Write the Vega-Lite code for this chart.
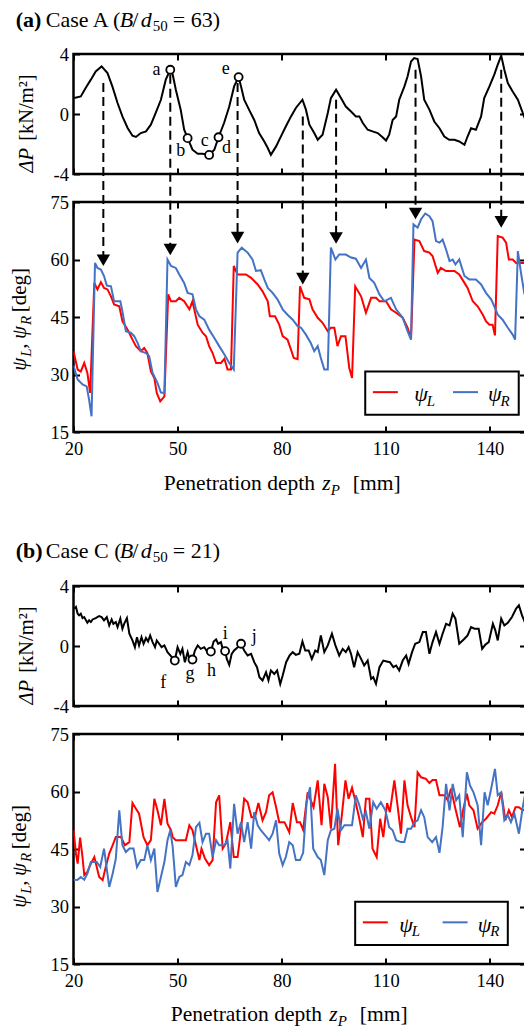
{
"$schema":"https://vega.github.io/schema/vega-lite/v6.json",
"padding":{"left":7.5,"top":7,"right":0,"bottom":0},
"autosize":{"type":"pad"},
"spacing":28,
"bounds":"flush",
"config":{
 "view":{"stroke":"black","strokeWidth":2.5},
 "axis":{"domain":false,"grid":false,"tickColor":"black","tickWidth":2,"tickSize":-6,"labelFont":"Liberation Serif","labelFontSize":18.5,"labelColor":"black","labelFlush":false,"labelOverlap":false,"labelPadding":9},
 "axisX":{"labelPadding":13},
 "axisY":{"labelPadding":11},
 "text":{"font":"Liberation Serif","color":"black"}
},
"datasets":{
"dpA":[{"x":20.2,"dp":1.07},{"x":22.1,"dp":1.17},{"x":23.5,"dp":1.73},{"x":25.0,"dp":2.29},{"x":26.4,"dp":2.84},{"x":28.1,"dp":3.17},{"x":29.8,"dp":2.73},{"x":31.2,"dp":1.84},{"x":32.7,"dp":0.73},{"x":34.1,"dp":-0.16},{"x":35.6,"dp":-0.93},{"x":37.0,"dp":-1.45},{"x":38.0,"dp":-1.53},{"x":39.4,"dp":-1.27},{"x":40.9,"dp":-1.16},{"x":42.3,"dp":-0.71},{"x":43.7,"dp":0.07},{"x":45.2,"dp":0.95},{"x":46.6,"dp":2.29},{"x":47.9,"dp":2.95},{"x":48.6,"dp":2.62},{"x":49.5,"dp":1.62},{"x":50.9,"dp":0.29},{"x":51.9,"dp":-1.05},{"x":52.9,"dp":-1.61},{"x":54.3,"dp":-2.38},{"x":55.8,"dp":-2.65},{"x":57.2,"dp":-2.65},{"x":59.1,"dp":-2.73},{"x":60.6,"dp":-2.38},{"x":61.8,"dp":-1.55},{"x":63.4,"dp":-0.6},{"x":64.9,"dp":0.5},{"x":66.3,"dp":1.84},{"x":67.6,"dp":2.46},{"x":68.3,"dp":1.84},{"x":69.2,"dp":0.95},{"x":70.6,"dp":0.29},{"x":72.1,"dp":-0.4},{"x":73.5,"dp":-1.27},{"x":75.0,"dp":-1.83},{"x":76.0,"dp":-2.27},{"x":76.9,"dp":-2.72},{"x":78.4,"dp":-2.16},{"x":79.8,"dp":-1.49},{"x":81.2,"dp":-0.83},{"x":82.7,"dp":-0.16},{"x":84.1,"dp":0.4},{"x":86.0,"dp":0.95},{"x":87.0,"dp":0.29},{"x":88.0,"dp":-0.71},{"x":89.4,"dp":-1.27},{"x":90.4,"dp":-1.72},{"x":91.8,"dp":-1.38},{"x":93.3,"dp":0.07},{"x":94.2,"dp":1.06},{"x":95.7,"dp":1.62},{"x":97.1,"dp":1.06},{"x":98.5,"dp":0.5},{"x":100.0,"dp":0.17},{"x":101.4,"dp":-0.16},{"x":102.4,"dp":-0.16},{"x":103.4,"dp":-0.6},{"x":104.8,"dp":-1.05},{"x":106.2,"dp":-1.16},{"x":107.7,"dp":-1.27},{"x":109.1,"dp":-1.55},{"x":110.1,"dp":-1.77},{"x":111.0,"dp":-1.38},{"x":112.0,"dp":-0.4},{"x":113.0,"dp":-0.16},{"x":113.9,"dp":0.95},{"x":115.4,"dp":1.84},{"x":116.3,"dp":2.5},{"x":117.3,"dp":3.5},{"x":118.2,"dp":3.73},{"x":119.2,"dp":3.66},{"x":120.2,"dp":2.5},{"x":121.1,"dp":0.95},{"x":122.6,"dp":0.29},{"x":124.0,"dp":-0.5},{"x":125.5,"dp":-0.95},{"x":126.9,"dp":-1.5},{"x":128.3,"dp":-1.72},{"x":129.8,"dp":-1.72},{"x":131.2,"dp":-1.83},{"x":132.7,"dp":-2.05},{"x":133.6,"dp":-1.5},{"x":134.6,"dp":-0.95},{"x":136.0,"dp":-1.05},{"x":137.5,"dp":-0.16},{"x":138.4,"dp":1.06},{"x":139.9,"dp":1.84},{"x":141.3,"dp":2.62},{"x":142.3,"dp":3.29},{"x":143.3,"dp":3.89},{"x":144.2,"dp":2.95},{"x":145.2,"dp":2.06},{"x":146.6,"dp":1.5},{"x":148.1,"dp":0.95},{"x":149.5,"dp":0.07},{"x":150.3,"dp":-0.4}],
"arrA":[{"x":28.6,"start":2.06,"end":-9.75,"tip":58.3},{"x":47.9,"start":2.62,"end":-9.03,"tip":61.1},{"x":67.3,"start":2.06,"end":-8.24,"tip":64.2},{"x":86.1,"start":-0.16,"end":-10.97,"tip":53.5},{"x":95.7,"start":0.95,"end":-8.27,"tip":64.1},{"x":118.6,"start":2.95,"end":-6.63,"tip":70.5},{"x":143.3,"start":2.95,"end":-7.19,"tip":68.3}],
"ptsA":[{"x":47.9,"dp":2.95,"label":"a","lx":43.9,"ly":2.62},{"x":52.9,"dp":-1.61,"label":"b","lx":50.9,"ly":-2.8},{"x":59.1,"dp":-2.73,"label":"c","lx":57.8,"ly":-2.13},{"x":61.8,"dp":-1.55,"label":"d","lx":64.1,"ly":-2.62},{"x":67.6,"dp":2.46,"label":"e","lx":63.9,"ly":2.68}],
"psiA":[
{"x":20,"psi":36.1,"side":"L"},{"x":21.2,"psi":31.3,"side":"L"},{"x":22.1,"psi":30.8,"side":"L"},{"x":23.1,"psi":33.0,"side":"L"},{"x":24.0,"psi":30.4,"side":"L"},{"x":24.8,"psi":25.2,"side":"L"},{"x":26.0,"psi":53.9,"side":"L"},{"x":26.9,"psi":52.2,"side":"L"},{"x":27.9,"psi":54.1,"side":"L"},{"x":28.8,"psi":52.6,"side":"L"},{"x":29.8,"psi":52.2,"side":"L"},{"x":30.8,"psi":50.4,"side":"L"},{"x":31.7,"psi":48.3,"side":"L"},{"x":33.2,"psi":47.8,"side":"L"},{"x":34.1,"psi":43.9,"side":"L"},{"x":35.6,"psi":41.7,"side":"L"},{"x":37.0,"psi":39.1,"side":"L"},{"x":38.0,"psi":37.4,"side":"L"},{"x":39.4,"psi":36.1,"side":"L"},{"x":40.4,"psi":36.9,"side":"L"},{"x":41.3,"psi":35.6,"side":"L"},{"x":42.3,"psi":30.8,"side":"L"},{"x":43.3,"psi":29.1,"side":"L"},{"x":44.0,"psi":25.2,"side":"L"},{"x":45.0,"psi":23.0,"side":"L"},{"x":46.2,"psi":24.3,"side":"L"},{"x":47.3,"psi":50.9,"side":"L"},{"x":48.1,"psi":49.1,"side":"L"},{"x":49.5,"psi":49.1,"side":"L"},{"x":50.5,"psi":50.0,"side":"L"},{"x":51.9,"psi":49.1,"side":"L"},{"x":53.4,"psi":47.0,"side":"L"},{"x":54.3,"psi":49.1,"side":"L"},{"x":55.8,"psi":43.0,"side":"L"},{"x":57.2,"psi":40.9,"side":"L"},{"x":58.2,"psi":40.0,"side":"L"},{"x":59.1,"psi":37.4,"side":"L"},{"x":60.1,"psi":35.6,"side":"L"},{"x":61.1,"psi":33.0,"side":"L"},{"x":62.5,"psi":33.0,"side":"L"},{"x":63.5,"psi":34.1,"side":"L"},{"x":64.4,"psi":31.3,"side":"L"},{"x":65.4,"psi":31.3,"side":"L"},{"x":66.2,"psi":58.3,"side":"L"},{"x":67.3,"psi":56.1,"side":"L"},{"x":69.7,"psi":56.1,"side":"L"},{"x":71.2,"psi":55.2,"side":"L"},{"x":73.1,"psi":53.5,"side":"L"},{"x":74.5,"psi":51.7,"side":"L"},{"x":76.0,"psi":49.1,"side":"L"},{"x":76.6,"psi":45.2,"side":"L"},{"x":78.1,"psi":45.2,"side":"L"},{"x":79.3,"psi":43.0,"side":"L"},{"x":80.3,"psi":40.0,"side":"L"},{"x":81.7,"psi":39.1,"side":"L"},{"x":82.7,"psi":36.5,"side":"L"},{"x":83.5,"psi":34.3,"side":"L"},{"x":84.6,"psi":34.0,"side":"L"},{"x":85.3,"psi":53.0,"side":"L"},{"x":86.5,"psi":50.0,"side":"L"},{"x":88.0,"psi":49.6,"side":"L"},{"x":88.9,"psi":47.0,"side":"L"},{"x":90.4,"psi":44.8,"side":"L"},{"x":91.8,"psi":43.5,"side":"L"},{"x":93.3,"psi":41.3,"side":"L"},{"x":94.2,"psi":42.2,"side":"L"},{"x":95.2,"psi":42.2,"side":"L"},{"x":96.1,"psi":37.4,"side":"L"},{"x":97.1,"psi":40.0,"side":"L"},{"x":98.4,"psi":40.0,"side":"L"},{"x":99.5,"psi":31.7,"side":"L"},{"x":100.3,"psi":29.1,"side":"L"},{"x":101.2,"psi":53.0,"side":"L"},{"x":102.9,"psi":50.4,"side":"L"},{"x":104.3,"psi":46.1,"side":"L"},{"x":105.8,"psi":50.0,"side":"L"},{"x":107.2,"psi":50.0,"side":"L"},{"x":108.2,"psi":49.1,"side":"L"},{"x":110.1,"psi":49.1,"side":"L"},{"x":111.5,"psi":47.0,"side":"L"},{"x":113.0,"psi":46.1,"side":"L"},{"x":114.9,"psi":44.8,"side":"L"},{"x":116.3,"psi":42.2,"side":"L"},{"x":117.3,"psi":39.3,"side":"L"},{"x":118.3,"psi":65.2,"side":"L"},{"x":119.7,"psi":64.8,"side":"L"},{"x":121.1,"psi":62.2,"side":"L"},{"x":122.6,"psi":61.8,"side":"L"},{"x":123.5,"psi":60.9,"side":"L"},{"x":125.0,"psi":56.5,"side":"L"},{"x":125.9,"psi":57.8,"side":"L"},{"x":127.4,"psi":57.0,"side":"L"},{"x":129.8,"psi":57.0,"side":"L"},{"x":131.2,"psi":56.1,"side":"L"},{"x":132.7,"psi":53.9,"side":"L"},{"x":133.6,"psi":52.6,"side":"L"},{"x":135.1,"psi":49.1,"side":"L"},{"x":136.5,"psi":47.8,"side":"L"},{"x":138.0,"psi":45.6,"side":"L"},{"x":138.9,"psi":43.9,"side":"L"},{"x":139.9,"psi":43.0,"side":"L"},{"x":140.8,"psi":43.0,"side":"L"},{"x":141.5,"psi":40.2,"side":"L"},{"x":142.3,"psi":66.1,"side":"L"},{"x":143.7,"psi":65.7,"side":"L"},{"x":144.7,"psi":64.4,"side":"L"},{"x":145.5,"psi":60.0,"side":"L"},{"x":146.6,"psi":60.0,"side":"L"},{"x":147.6,"psi":59.1,"side":"L"},{"x":150.3,"psi":59.1,"side":"L"},
{"x":20,"psi":32.3,"side":"R"},{"x":21.2,"psi":28.7,"side":"R"},{"x":22.6,"psi":27.4,"side":"R"},{"x":23.8,"psi":26.9,"side":"R"},{"x":24.5,"psi":23.4,"side":"R"},{"x":25.2,"psi":19.1,"side":"R"},{"x":26.2,"psi":59.1,"side":"R"},{"x":26.9,"psi":57.8,"side":"R"},{"x":27.9,"psi":57.4,"side":"R"},{"x":28.8,"psi":55.7,"side":"R"},{"x":29.6,"psi":53.2,"side":"R"},{"x":30.8,"psi":53.0,"side":"R"},{"x":31.7,"psi":49.1,"side":"R"},{"x":33.5,"psi":49.1,"side":"R"},{"x":34.1,"psi":46.5,"side":"R"},{"x":35.1,"psi":41.3,"side":"R"},{"x":36.5,"psi":40.9,"side":"R"},{"x":37.5,"psi":40.0,"side":"R"},{"x":38.5,"psi":38.2,"side":"R"},{"x":39.4,"psi":36.1,"side":"R"},{"x":40.9,"psi":35.6,"side":"R"},{"x":41.8,"psi":34.8,"side":"R"},{"x":42.8,"psi":30.4,"side":"R"},{"x":44.2,"psi":27.8,"side":"R"},{"x":45.2,"psi":25.3,"side":"R"},{"x":46.2,"psi":25.2,"side":"R"},{"x":47.1,"psi":60.0,"side":"R"},{"x":48.1,"psi":58.3,"side":"R"},{"x":49.5,"psi":57.8,"side":"R"},{"x":50.5,"psi":56.1,"side":"R"},{"x":51.9,"psi":53.9,"side":"R"},{"x":52.9,"psi":51.3,"side":"R"},{"x":54.3,"psi":50.9,"side":"R"},{"x":55.3,"psi":47.0,"side":"R"},{"x":56.3,"psi":45.2,"side":"R"},{"x":57.7,"psi":44.3,"side":"R"},{"x":59.1,"psi":41.7,"side":"R"},{"x":60.6,"psi":39.5,"side":"R"},{"x":62.0,"psi":37.4,"side":"R"},{"x":63.5,"psi":35.2,"side":"R"},{"x":64.9,"psi":33.0,"side":"R"},{"x":66.2,"psi":31.3,"side":"R"},{"x":67.3,"psi":61.8,"side":"R"},{"x":68.5,"psi":63.1,"side":"R"},{"x":70.2,"psi":61.8,"side":"R"},{"x":71.6,"psi":60.0,"side":"R"},{"x":72.6,"psi":57.0,"side":"R"},{"x":74.0,"psi":57.2,"side":"R"},{"x":75.0,"psi":54.8,"side":"R"},{"x":76.0,"psi":52.6,"side":"R"},{"x":77.4,"psi":51.3,"side":"R"},{"x":78.8,"psi":49.6,"side":"R"},{"x":80.3,"psi":47.0,"side":"R"},{"x":81.7,"psi":45.6,"side":"R"},{"x":83.2,"psi":44.3,"side":"R"},{"x":84.6,"psi":42.6,"side":"R"},{"x":85.6,"psi":42.2,"side":"R"},{"x":87.0,"psi":40.4,"side":"R"},{"x":88.4,"psi":38.2,"side":"R"},{"x":89.4,"psi":36.1,"side":"R"},{"x":90.4,"psi":37.4,"side":"R"},{"x":91.3,"psi":34.3,"side":"R"},{"x":92.3,"psi":31.3,"side":"R"},{"x":93.3,"psi":31.3,"side":"R"},{"x":94.2,"psi":63.1,"side":"R"},{"x":95.5,"psi":60.0,"side":"R"},{"x":96.6,"psi":61.3,"side":"R"},{"x":98.5,"psi":61.3,"side":"R"},{"x":100.0,"psi":60.5,"side":"R"},{"x":101.4,"psi":60.2,"side":"R"},{"x":102.9,"psi":57.8,"side":"R"},{"x":104.3,"psi":60.0,"side":"R"},{"x":105.3,"psi":55.2,"side":"R"},{"x":106.7,"psi":53.9,"side":"R"},{"x":108.2,"psi":50.9,"side":"R"},{"x":109.6,"psi":49.1,"side":"R"},{"x":111.5,"psi":50.0,"side":"R"},{"x":113.0,"psi":47.0,"side":"R"},{"x":114.9,"psi":44.8,"side":"R"},{"x":116.3,"psi":41.3,"side":"R"},{"x":117.3,"psi":39.1,"side":"R"},{"x":118.0,"psi":69.2,"side":"R"},{"x":119.2,"psi":68.3,"side":"R"},{"x":120.2,"psi":70.5,"side":"R"},{"x":121.4,"psi":72.0,"side":"R"},{"x":122.6,"psi":71.3,"side":"R"},{"x":123.5,"psi":70.0,"side":"R"},{"x":124.5,"psi":64.8,"side":"R"},{"x":125.5,"psi":64.4,"side":"R"},{"x":126.4,"psi":65.2,"side":"R"},{"x":127.4,"psi":62.6,"side":"R"},{"x":128.4,"psi":59.6,"side":"R"},{"x":129.3,"psi":60.0,"side":"R"},{"x":130.1,"psi":58.7,"side":"R"},{"x":131.2,"psi":60.0,"side":"R"},{"x":132.7,"psi":55.7,"side":"R"},{"x":134.1,"psi":54.8,"side":"R"},{"x":136.0,"psi":54.8,"side":"R"},{"x":137.5,"psi":53.5,"side":"R"},{"x":138.9,"psi":51.3,"side":"R"},{"x":140.4,"psi":49.6,"side":"R"},{"x":141.3,"psi":47.8,"side":"R"},{"x":142.3,"psi":45.6,"side":"R"},{"x":143.7,"psi":44.3,"side":"R"},{"x":145.2,"psi":42.2,"side":"R"},{"x":146.6,"psi":40.4,"side":"R"},{"x":147.3,"psi":39.1,"side":"R"},{"x":148.1,"psi":62.2,"side":"R"},{"x":149.0,"psi":56.5,"side":"R"},{"x":150.0,"psi":50.9,"side":"R"}],
"dpC":[{"x":20.2,"dp":2.49},{"x":20.7,"dp":2.6},{"x":21.2,"dp":2.15},{"x":21.6,"dp":2.04},{"x":22.1,"dp":2.15},{"x":22.6,"dp":1.86},{"x":23.1,"dp":1.93},{"x":23.6,"dp":1.71},{"x":24.0,"dp":1.55},{"x":24.5,"dp":1.71},{"x":25.0,"dp":1.6},{"x":25.5,"dp":1.77},{"x":26.4,"dp":1.86},{"x":27.4,"dp":2.0},{"x":28.1,"dp":1.93},{"x":28.8,"dp":1.71},{"x":29.6,"dp":1.93},{"x":30.3,"dp":1.37},{"x":31.0,"dp":1.77},{"x":31.5,"dp":1.48},{"x":32.2,"dp":1.6},{"x":32.7,"dp":1.26},{"x":33.5,"dp":1.82},{"x":34.1,"dp":1.15},{"x":34.6,"dp":1.48},{"x":35.4,"dp":1.86},{"x":36.1,"dp":0.82},{"x":37.0,"dp":0.37},{"x":37.7,"dp":-0.08},{"x":38.3,"dp":0.59},{"x":38.9,"dp":0.04},{"x":39.6,"dp":0.59},{"x":40.2,"dp":0.15},{"x":40.9,"dp":0.53},{"x":41.5,"dp":0.3},{"x":42.1,"dp":0.7},{"x":42.8,"dp":0.26},{"x":43.5,"dp":-0.08},{"x":44.0,"dp":0.37},{"x":44.7,"dp":0.15},{"x":45.4,"dp":-0.08},{"x":46.2,"dp":0.04},{"x":47.1,"dp":-0.41},{"x":48.1,"dp":-0.68},{"x":49.2,"dp":-0.97},{"x":50.0,"dp":-0.08},{"x":50.8,"dp":-0.52},{"x":51.4,"dp":-0.19},{"x":52.1,"dp":-1.08},{"x":52.9,"dp":-0.41},{"x":53.7,"dp":-1.08},{"x":54.3,"dp":-0.9},{"x":55.0,"dp":-0.3},{"x":55.8,"dp":0.04},{"x":56.7,"dp":-0.19},{"x":57.7,"dp":-0.08},{"x":58.6,"dp":-0.41},{"x":59.6,"dp":-0.37},{"x":60.4,"dp":0.3},{"x":61.1,"dp":0.44},{"x":61.7,"dp":0.15},{"x":62.5,"dp":0.26},{"x":63.0,"dp":-0.19},{"x":63.7,"dp":-0.34},{"x":64.2,"dp":-0.86},{"x":64.9,"dp":-1.26},{"x":65.6,"dp":-0.52},{"x":66.3,"dp":-0.3},{"x":67.1,"dp":-0.14},{"x":68.3,"dp":0.15},{"x":69.2,"dp":-0.3},{"x":70.2,"dp":-0.63},{"x":71.2,"dp":-0.52},{"x":72.1,"dp":-1.08},{"x":72.9,"dp":-1.41},{"x":73.6,"dp":-2.08},{"x":74.5,"dp":-2.3},{"x":75.5,"dp":-1.75},{"x":76.2,"dp":-2.3},{"x":76.9,"dp":-1.63},{"x":77.9,"dp":-1.86},{"x":78.7,"dp":-1.63},{"x":79.6,"dp":-2.53},{"x":80.3,"dp":-1.97},{"x":81.3,"dp":-1.08},{"x":82.3,"dp":-0.63},{"x":83.2,"dp":-0.41},{"x":84.1,"dp":-0.59},{"x":85.1,"dp":-0.52},{"x":86.0,"dp":0.3},{"x":86.8,"dp":-0.3},{"x":87.8,"dp":-0.3},{"x":88.7,"dp":-0.86},{"x":89.7,"dp":-0.3},{"x":90.4,"dp":-0.41},{"x":91.3,"dp":0.7},{"x":92.3,"dp":-0.41},{"x":93.3,"dp":0.04},{"x":94.5,"dp":0.82},{"x":95.5,"dp":0.04},{"x":96.6,"dp":-0.63},{"x":97.6,"dp":-0.19},{"x":98.5,"dp":-0.41},{"x":99.3,"dp":-0.08},{"x":100.0,"dp":-0.52},{"x":100.9,"dp":-1.41},{"x":101.9,"dp":-0.41},{"x":102.9,"dp":-0.86},{"x":103.8,"dp":-1.3},{"x":104.8,"dp":-0.97},{"x":105.8,"dp":-2.19},{"x":106.4,"dp":-2.08},{"x":107.2,"dp":-2.53},{"x":108.2,"dp":-1.41},{"x":109.3,"dp":-0.97},{"x":110.3,"dp":-1.03},{"x":111.2,"dp":-1.08},{"x":112.2,"dp":-1.41},{"x":113.0,"dp":-1.3},{"x":113.9,"dp":-1.63},{"x":114.9,"dp":-0.97},{"x":115.9,"dp":-0.63},{"x":116.6,"dp":-1.19},{"x":117.6,"dp":-0.41},{"x":118.5,"dp":0.15},{"x":119.7,"dp":0.26},{"x":120.7,"dp":0.93},{"x":121.6,"dp":0.93},{"x":122.6,"dp":-0.52},{"x":123.5,"dp":0.26},{"x":124.5,"dp":0.93},{"x":125.5,"dp":0.15},{"x":126.4,"dp":0.82},{"x":127.4,"dp":1.48},{"x":128.4,"dp":1.37},{"x":129.3,"dp":2.15},{"x":130.1,"dp":1.82},{"x":131.2,"dp":0.15},{"x":132.7,"dp":0.48},{"x":133.6,"dp":0.7},{"x":134.6,"dp":1.26},{"x":135.6,"dp":1.15},{"x":136.8,"dp":1.15},{"x":137.8,"dp":-0.19},{"x":138.7,"dp":0.08},{"x":139.7,"dp":0.26},{"x":140.9,"dp":1.48},{"x":141.6,"dp":1.04},{"x":142.3,"dp":0.37},{"x":143.3,"dp":1.82},{"x":144.2,"dp":1.37},{"x":145.2,"dp":1.55},{"x":146.4,"dp":1.93},{"x":147.6,"dp":2.49},{"x":148.4,"dp":2.71},{"x":149.3,"dp":2.04},{"x":150.3,"dp":1.48}],
"ptsC":[{"x":49.2,"dp":-0.97,"label":"f","lx":45.9,"ly":-2.82},{"x":54.3,"dp":-0.9,"label":"g","lx":53.6,"ly":-2.19},{"x":59.6,"dp":-0.37,"label":"h","lx":59.8,"ly":-2.01},{"x":63.7,"dp":-0.34,"label":"i","lx":63.75,"ly":0.48},{"x":68.3,"dp":0.15,"label":"j","lx":72.1,"ly":0.26}],
"psiC":[
{"x":20,"psi":50.0,"side":"L"},{"x":20.7,"psi":43.8,"side":"L"},{"x":21.2,"psi":41.2,"side":"L"},{"x":21.9,"psi":48.0,"side":"L"},{"x":22.6,"psi":42.9,"side":"L"},{"x":23.1,"psi":38.2,"side":"L"},{"x":24.0,"psi":39.0,"side":"L"},{"x":25.0,"psi":41.2,"side":"L"},{"x":26.0,"psi":42.9,"side":"L"},{"x":26.7,"psi":40.3,"side":"L"},{"x":27.4,"psi":37.7,"side":"L"},{"x":28.4,"psi":36.9,"side":"L"},{"x":29.3,"psi":40.3,"side":"L"},{"x":30.3,"psi":43.8,"side":"L"},{"x":31.3,"psi":46.0,"side":"L"},{"x":32.2,"psi":48.1,"side":"L"},{"x":33.7,"psi":48.1,"side":"L"},{"x":34.8,"psi":46.0,"side":"L"},{"x":36.1,"psi":46.8,"side":"L"},{"x":37.0,"psi":57.0,"side":"L"},{"x":38.0,"psi":55.5,"side":"L"},{"x":38.9,"psi":54.2,"side":"L"},{"x":40.2,"psi":48.1,"side":"L"},{"x":41.3,"psi":46.0,"side":"L"},{"x":42.3,"psi":47.3,"side":"L"},{"x":43.3,"psi":58.1,"side":"L"},{"x":44.2,"psi":55.1,"side":"L"},{"x":45.2,"psi":51.2,"side":"L"},{"x":46.2,"psi":58.1,"side":"L"},{"x":47.1,"psi":51.6,"side":"L"},{"x":48.1,"psi":49.9,"side":"L"},{"x":48.6,"psi":48.1,"side":"L"},{"x":49.5,"psi":47.3,"side":"L"},{"x":51.0,"psi":47.3,"side":"L"},{"x":52.4,"psi":47.3,"side":"L"},{"x":53.4,"psi":51.2,"side":"L"},{"x":54.3,"psi":49.9,"side":"L"},{"x":55.3,"psi":46.0,"side":"L"},{"x":56.3,"psi":42.1,"side":"L"},{"x":56.9,"psi":45.1,"side":"L"},{"x":57.9,"psi":42.5,"side":"L"},{"x":59.1,"psi":40.8,"side":"L"},{"x":60.1,"psi":42.1,"side":"L"},{"x":61.1,"psi":57.2,"side":"L"},{"x":62.0,"psi":59.0,"side":"L"},{"x":63.0,"psi":45.1,"side":"L"},{"x":63.9,"psi":46.4,"side":"L"},{"x":65.2,"psi":52.0,"side":"L"},{"x":66.2,"psi":42.9,"side":"L"},{"x":67.3,"psi":42.9,"side":"L"},{"x":68.1,"psi":48.6,"side":"L"},{"x":69.2,"psi":58.1,"side":"L"},{"x":70.2,"psi":57.2,"side":"L"},{"x":71.3,"psi":53.3,"side":"L"},{"x":72.3,"psi":53.3,"side":"L"},{"x":73.3,"psi":57.0,"side":"L"},{"x":74.5,"psi":52.5,"side":"L"},{"x":75.5,"psi":54.6,"side":"L"},{"x":76.4,"psi":59.0,"side":"L"},{"x":77.4,"psi":59.8,"side":"L"},{"x":78.4,"psi":55.9,"side":"L"},{"x":79.3,"psi":52.0,"side":"L"},{"x":80.8,"psi":52.0,"side":"L"},{"x":82.2,"psi":49.4,"side":"L"},{"x":83.2,"psi":57.0,"side":"L"},{"x":84.4,"psi":52.0,"side":"L"},{"x":85.3,"psi":52.0,"side":"L"},{"x":86.2,"psi":50.0,"side":"L"},{"x":87.5,"psi":59.8,"side":"L"},{"x":88.4,"psi":57.7,"side":"L"},{"x":89.2,"psi":55.9,"side":"L"},{"x":90.4,"psi":62.9,"side":"L"},{"x":91.5,"psi":51.2,"side":"L"},{"x":92.3,"psi":62.0,"side":"L"},{"x":93.3,"psi":58.5,"side":"L"},{"x":94.2,"psi":50.3,"side":"L"},{"x":95.4,"psi":67.2,"side":"L"},{"x":96.3,"psi":46.0,"side":"L"},{"x":97.3,"psi":53.3,"side":"L"},{"x":98.4,"psi":62.9,"side":"L"},{"x":99.3,"psi":58.1,"side":"L"},{"x":100.3,"psi":61.0,"side":"L"},{"x":101.2,"psi":57.7,"side":"L"},{"x":102.4,"psi":52.9,"side":"L"},{"x":103.4,"psi":48.1,"side":"L"},{"x":104.3,"psi":58.1,"side":"L"},{"x":105.3,"psi":58.1,"side":"L"},{"x":106.2,"psi":45.1,"side":"L"},{"x":107.4,"psi":42.9,"side":"L"},{"x":108.4,"psi":52.9,"side":"L"},{"x":109.3,"psi":48.1,"side":"L"},{"x":110.4,"psi":57.0,"side":"L"},{"x":111.2,"psi":54.6,"side":"L"},{"x":112.5,"psi":62.9,"side":"L"},{"x":113.4,"psi":56.4,"side":"L"},{"x":114.4,"psi":49.0,"side":"L"},{"x":115.4,"psi":62.9,"side":"L"},{"x":116.3,"psi":56.4,"side":"L"},{"x":117.3,"psi":53.3,"side":"L"},{"x":118.3,"psi":50.7,"side":"L"},{"x":119.2,"psi":65.0,"side":"L"},{"x":120.2,"psi":63.7,"side":"L"},{"x":121.6,"psi":63.3,"side":"L"},{"x":122.6,"psi":62.2,"side":"L"},{"x":123.5,"psi":63.0,"side":"L"},{"x":124.5,"psi":63.0,"side":"L"},{"x":125.5,"psi":59.0,"side":"L"},{"x":126.9,"psi":59.0,"side":"L"},{"x":127.9,"psi":57.7,"side":"L"},{"x":128.8,"psi":60.7,"side":"L"},{"x":130.1,"psi":55.5,"side":"L"},{"x":131.4,"psi":50.7,"side":"L"},{"x":132.4,"psi":55.5,"side":"L"},{"x":133.4,"psi":59.4,"side":"L"},{"x":134.1,"psi":56.4,"side":"L"},{"x":135.3,"psi":55.1,"side":"L"},{"x":136.5,"psi":50.3,"side":"L"},{"x":137.8,"psi":52.0,"side":"L"},{"x":138.9,"psi":52.9,"side":"L"},{"x":140.4,"psi":54.6,"side":"L"},{"x":141.3,"psi":54.2,"side":"L"},{"x":142.3,"psi":56.4,"side":"L"},{"x":143.3,"psi":59.8,"side":"L"},{"x":144.5,"psi":52.5,"side":"L"},{"x":145.5,"psi":55.1,"side":"L"},{"x":146.4,"psi":53.3,"side":"L"},{"x":147.4,"psi":55.9,"side":"L"},{"x":148.4,"psi":55.9,"side":"L"},{"x":149.5,"psi":55.1,"side":"L"},{"x":150.3,"psi":55.2,"side":"L"},
{"x":20,"psi":36.9,"side":"R"},{"x":21.2,"psi":37.0,"side":"R"},{"x":22.1,"psi":37.7,"side":"R"},{"x":23.1,"psi":37.0,"side":"R"},{"x":24.0,"psi":38.6,"side":"R"},{"x":25.0,"psi":41.6,"side":"R"},{"x":25.8,"psi":41.6,"side":"R"},{"x":26.7,"psi":41.6,"side":"R"},{"x":27.7,"psi":40.3,"side":"R"},{"x":28.8,"psi":45.1,"side":"R"},{"x":30.3,"psi":35.1,"side":"R"},{"x":31.3,"psi":38.6,"side":"R"},{"x":32.2,"psi":42.5,"side":"R"},{"x":33.2,"psi":55.1,"side":"R"},{"x":34.1,"psi":46.0,"side":"R"},{"x":35.1,"psi":44.2,"side":"R"},{"x":36.1,"psi":45.1,"side":"R"},{"x":37.3,"psi":45.1,"side":"R"},{"x":38.3,"psi":40.3,"side":"R"},{"x":39.4,"psi":42.1,"side":"R"},{"x":40.4,"psi":42.1,"side":"R"},{"x":41.3,"psi":46.0,"side":"R"},{"x":42.3,"psi":42.1,"side":"R"},{"x":43.3,"psi":45.1,"side":"R"},{"x":44.2,"psi":33.8,"side":"R"},{"x":45.2,"psi":37.7,"side":"R"},{"x":46.2,"psi":41.6,"side":"R"},{"x":47.1,"psi":47.3,"side":"R"},{"x":47.9,"psi":49.9,"side":"R"},{"x":48.6,"psi":45.5,"side":"R"},{"x":49.5,"psi":35.1,"side":"R"},{"x":50.5,"psi":37.7,"side":"R"},{"x":51.4,"psi":38.2,"side":"R"},{"x":52.4,"psi":41.6,"side":"R"},{"x":53.4,"psi":40.8,"side":"R"},{"x":54.3,"psi":43.4,"side":"R"},{"x":55.3,"psi":50.7,"side":"R"},{"x":56.3,"psi":51.8,"side":"R"},{"x":57.2,"psi":46.8,"side":"R"},{"x":58.2,"psi":49.0,"side":"R"},{"x":59.1,"psi":49.0,"side":"R"},{"x":60.1,"psi":42.9,"side":"R"},{"x":61.1,"psi":47.3,"side":"R"},{"x":62.0,"psi":46.0,"side":"R"},{"x":63.5,"psi":46.0,"side":"R"},{"x":64.4,"psi":47.3,"side":"R"},{"x":65.2,"psi":39.9,"side":"R"},{"x":66.3,"psi":56.8,"side":"R"},{"x":67.3,"psi":49.0,"side":"R"},{"x":68.3,"psi":52.0,"side":"R"},{"x":69.2,"psi":46.8,"side":"R"},{"x":70.2,"psi":52.0,"side":"R"},{"x":71.2,"psi":45.1,"side":"R"},{"x":72.1,"psi":54.6,"side":"R"},{"x":73.1,"psi":51.2,"side":"R"},{"x":74.0,"psi":49.9,"side":"R"},{"x":75.5,"psi":48.3,"side":"R"},{"x":76.4,"psi":47.3,"side":"R"},{"x":77.4,"psi":49.0,"side":"R"},{"x":78.4,"psi":52.5,"side":"R"},{"x":79.3,"psi":43.8,"side":"R"},{"x":80.3,"psi":40.8,"side":"R"},{"x":81.2,"psi":42.9,"side":"R"},{"x":82.2,"psi":46.8,"side":"R"},{"x":83.2,"psi":46.0,"side":"R"},{"x":84.1,"psi":42.1,"side":"R"},{"x":85.3,"psi":42.1,"side":"R"},{"x":86.2,"psi":44.0,"side":"R"},{"x":87.2,"psi":57.2,"side":"R"},{"x":88.2,"psi":61.1,"side":"R"},{"x":89.1,"psi":45.1,"side":"R"},{"x":90.4,"psi":42.9,"side":"R"},{"x":91.3,"psi":42.1,"side":"R"},{"x":92.3,"psi":38.2,"side":"R"},{"x":93.3,"psi":47.3,"side":"R"},{"x":94.2,"psi":49.9,"side":"R"},{"x":95.2,"psi":50.3,"side":"R"},{"x":96.1,"psi":55.5,"side":"R"},{"x":97.1,"psi":49.9,"side":"R"},{"x":98.1,"psi":51.2,"side":"R"},{"x":99.3,"psi":51.2,"side":"R"},{"x":100.3,"psi":51.2,"side":"R"},{"x":101.4,"psi":59.0,"side":"R"},{"x":102.4,"psi":56.4,"side":"R"},{"x":103.4,"psi":52.9,"side":"R"},{"x":104.3,"psi":54.6,"side":"R"},{"x":105.3,"psi":50.3,"side":"R"},{"x":106.4,"psi":57.2,"side":"R"},{"x":107.4,"psi":55.5,"side":"R"},{"x":108.6,"psi":57.2,"side":"R"},{"x":109.9,"psi":55.1,"side":"R"},{"x":111.0,"psi":50.7,"side":"R"},{"x":112.0,"psi":49.9,"side":"R"},{"x":113.0,"psi":47.3,"side":"R"},{"x":114.4,"psi":46.8,"side":"R"},{"x":115.4,"psi":46.8,"side":"R"},{"x":116.3,"psi":50.3,"side":"R"},{"x":117.3,"psi":50.3,"side":"R"},{"x":118.3,"psi":52.0,"side":"R"},{"x":119.2,"psi":52.5,"side":"R"},{"x":120.2,"psi":55.1,"side":"R"},{"x":121.1,"psi":53.3,"side":"R"},{"x":122.1,"psi":48.1,"side":"R"},{"x":123.4,"psi":46.8,"side":"R"},{"x":124.5,"psi":48.1,"side":"R"},{"x":125.5,"psi":44.0,"side":"R"},{"x":126.4,"psi":50.7,"side":"R"},{"x":127.4,"psi":62.0,"side":"R"},{"x":128.4,"psi":55.1,"side":"R"},{"x":129.3,"psi":62.0,"side":"R"},{"x":130.3,"psi":57.7,"side":"R"},{"x":131.2,"psi":59.0,"side":"R"},{"x":132.2,"psi":48.1,"side":"R"},{"x":133.4,"psi":65.0,"side":"R"},{"x":134.3,"psi":61.6,"side":"R"},{"x":135.3,"psi":59.8,"side":"R"},{"x":136.5,"psi":56.4,"side":"R"},{"x":137.5,"psi":46.0,"side":"R"},{"x":138.5,"psi":59.8,"side":"R"},{"x":139.4,"psi":56.4,"side":"R"},{"x":140.4,"psi":60.7,"side":"R"},{"x":141.5,"psi":65.9,"side":"R"},{"x":142.3,"psi":59.0,"side":"R"},{"x":143.3,"psi":59.8,"side":"R"},{"x":144.2,"psi":52.5,"side":"R"},{"x":145.2,"psi":53.8,"side":"R"},{"x":146.1,"psi":52.0,"side":"R"},{"x":147.1,"psi":54.2,"side":"R"},{"x":148.4,"psi":49.0,"side":"R"},{"x":149.5,"psi":55.9,"side":"R"},{"x":150.3,"psi":59.8,"side":"R"}]
},
"vconcat":[
{"width":452,"height":120,"data":{"name":"dpA"},
 "layer":[
  {"mark":{"type":"line","color":"black","strokeWidth":2,"clip":true},
   "encoding":{"x":{"field":"x","type":"quantitative","scale":{"domain":[20,150.3],"nice":false,"zero":false},"axis":{"orient":"bottom","values":[20,50,80,110,140],"labels":false,"title":null}},
     "y":{"field":"dp","type":"quantitative","scale":{"domain":[-4,4],"nice":false,"zero":false},"axis":{"orient":"left","values":[-4,0,4],"labelExpr":"''+datum.value","title":null}}}},
  {"mark":{"type":"point","opacity":0},
   "encoding":{"x":{"field":"x","type":"quantitative","axis":{"orient":"top","values":[20,50,80,110,140],"labels":false,"title":null}},
     "y":{"field":"dp","type":"quantitative","axis":{"orient":"right","values":[-4,0,4],"labels":false,"title":null}}}},
  {"data":{"name":"arrA"},"mark":{"type":"rule","color":"black","strokeWidth":2,"strokeDash":[9,5]},
   "encoding":{"x":{"field":"x","type":"quantitative","axis":null},"y":{"field":"start","type":"quantitative","axis":null},"y2":{"field":"end"}}},
  {"data":{"name":"ptsA"},"mark":{"type":"point","shape":"circle","filled":true,"fill":"white","stroke":"black","strokeWidth":1.8,"size":64,"opacity":1},
   "encoding":{"x":{"field":"x","type":"quantitative","axis":null},"y":{"field":"dp","type":"quantitative","axis":null}}},
  {"data":{"name":"ptsA"},"mark":{"type":"text","fontSize":18,"align":"center","baseline":"alphabetic"},
   "encoding":{"x":{"field":"lx","type":"quantitative","axis":null},"y":{"field":"ly","type":"quantitative","axis":null},"text":{"field":"label"}}},
  {"data":{"values":[{}]},"mark":{"type":"text","text":"ΔP","fontStyle":"italic","fontSize":20.5,"angle":270,"align":"left","baseline":"alphabetic","dx":0},
   "encoding":{"x":{"datum":8.26,"type":"quantitative","axis":null},"y":{"datum":-3.9,"type":"quantitative","axis":null}}},
  {"data":{"values":[{}]},"mark":{"type":"text","text":"[kN/m²]","fontSize":20.5,"angle":270,"align":"left","baseline":"alphabetic","dx":31.7},
   "encoding":{"x":{"datum":8.26,"type":"quantitative","axis":null},"y":{"datum":-3.9,"type":"quantitative","axis":null}}},
  {"data":{"values":[{}]},"mark":{"type":"text","text":"(a)","fontWeight":"bold","fontSize":22,"align":"left","baseline":"alphabetic","dx":0},
   "encoding":{"x":{"datum":3.36,"type":"quantitative","axis":null},"y":{"datum":5.8,"type":"quantitative","axis":null}}},
  {"data":{"values":[{}]},"mark":{"type":"text","text":"Case A (","fontSize":22,"align":"left","baseline":"alphabetic","dx":30},
   "encoding":{"x":{"datum":3.36,"type":"quantitative","axis":null},"y":{"datum":5.8,"type":"quantitative","axis":null}}},
  {"data":{"values":[{}]},"mark":{"type":"text","text":"B","fontStyle":"italic","fontSize":22,"align":"left","baseline":"alphabetic","dx":104},
   "encoding":{"x":{"datum":3.36,"type":"quantitative","axis":null},"y":{"datum":5.8,"type":"quantitative","axis":null}}},
  {"data":{"values":[{}]},"mark":{"type":"text","text":"/","fontSize":22,"align":"left","baseline":"alphabetic","dx":116.5},
   "encoding":{"x":{"datum":3.36,"type":"quantitative","axis":null},"y":{"datum":5.8,"type":"quantitative","axis":null}}},
  {"data":{"values":[{}]},"mark":{"type":"text","text":"d","fontStyle":"italic","fontSize":22,"align":"left","baseline":"alphabetic","dx":125},
   "encoding":{"x":{"datum":3.36,"type":"quantitative","axis":null},"y":{"datum":5.8,"type":"quantitative","axis":null}}},
  {"data":{"values":[{}]},"mark":{"type":"text","text":"50","fontSize":15,"align":"left","baseline":"alphabetic","dx":137,"dy":4},
   "encoding":{"x":{"datum":3.36,"type":"quantitative","axis":null},"y":{"datum":5.8,"type":"quantitative","axis":null}}},
  {"data":{"values":[{}]},"mark":{"type":"text","text":"= 63)","fontSize":22,"align":"left","baseline":"alphabetic","dx":157},
   "encoding":{"x":{"datum":3.36,"type":"quantitative","axis":null},"y":{"datum":5.8,"type":"quantitative","axis":null}}}
 ],
 "resolve":{"axis":{"x":"independent","y":"independent"}}
},
{"width":452,"height":230,"data":{"name":"psiA"},
 "layer":[
  {"mark":{"type":"line","strokeWidth":2,"clip":true},
   "encoding":{"x":{"field":"x","type":"quantitative","scale":{"domain":[20,150.3],"nice":false,"zero":false},"axis":{"orient":"bottom","values":[20,50,80,110,140],"title":null}},
     "y":{"field":"psi","type":"quantitative","scale":{"domain":[15,75],"nice":false,"zero":false},"axis":{"orient":"left","values":[15,30,45,60,75],"title":null}},
     "color":{"field":"side","type":"nominal","scale":{"domain":["L","R"],"range":["#ff0000","#4472c4"]},"legend":null}}},
  {"mark":{"type":"point","opacity":0},
   "encoding":{"x":{"field":"x","type":"quantitative","axis":{"orient":"top","values":[20,50,80,110,140],"labels":false,"title":null}},
     "y":{"field":"psi","type":"quantitative","axis":{"orient":"right","values":[15,30,45,60,75],"labels":false,"title":null}}}},
  {"data":{"name":"arrA"},"mark":{"type":"point","shape":"triangle-down","filled":true,"color":"black","size":180,"opacity":1,"yOffset":-5.8},
   "encoding":{"x":{"field":"x","type":"quantitative","axis":null},"y":{"field":"tip","type":"quantitative","axis":null}}},
  {"data":{"values":[{}]},"mark":{"type":"rect","fill":"white","stroke":"black","strokeWidth":2},
   "encoding":{"x":{"datum":104.1,"type":"quantitative","axis":null},"x2":{"datum":148.35},"y":{"datum":30.8,"type":"quantitative","axis":null},"y2":{"datum":19.5}}},
  {"data":{"values":[{}]},"mark":{"type":"rule","color":"#ff0000","strokeWidth":2},
   "encoding":{"x":{"datum":106.3,"type":"quantitative","axis":null},"x2":{"datum":113.5},"y":{"datum":25.4,"type":"quantitative","axis":null}}},
  {"data":{"values":[{}]},"mark":{"type":"rule","color":"#4472c4","strokeWidth":2},
   "encoding":{"x":{"datum":129.4,"type":"quantitative","axis":null},"x2":{"datum":136.6},"y":{"datum":25.4,"type":"quantitative","axis":null}}},
  {"data":{"values":[{}]},"mark":{"type":"text","text":"ψ","fontStyle":"italic","fontSize":22,"align":"left","baseline":"alphabetic"},
   "encoding":{"x":{"datum":118.2,"type":"quantitative","axis":null},"y":{"datum":23.0,"type":"quantitative","axis":null}}},
  {"data":{"values":[{}]},"mark":{"type":"text","text":"L","fontStyle":"italic","fontSize":15,"align":"left","baseline":"alphabetic","dx":12.5,"dy":4.5},
   "encoding":{"x":{"datum":118.2,"type":"quantitative","axis":null},"y":{"datum":23.0,"type":"quantitative","axis":null}}},
  {"data":{"values":[{}]},"mark":{"type":"text","text":"ψ","fontStyle":"italic","fontSize":22,"align":"left","baseline":"alphabetic"},
   "encoding":{"x":{"datum":139.5,"type":"quantitative","axis":null},"y":{"datum":23.0,"type":"quantitative","axis":null}}},
  {"data":{"values":[{}]},"mark":{"type":"text","text":"R","fontStyle":"italic","fontSize":15,"align":"left","baseline":"alphabetic","dx":12.5,"dy":4.5},
   "encoding":{"x":{"datum":139.5,"type":"quantitative","axis":null},"y":{"datum":23.0,"type":"quantitative","axis":null}}},
  {"data":{"values":[{}]},"mark":{"type":"text","text":"ψ","fontStyle":"italic","fontSize":21,"angle":270,"align":"left","baseline":"alphabetic","dx":0},
   "encoding":{"x":{"datum":6.36,"type":"quantitative","axis":null},"y":{"datum":31.0,"type":"quantitative","axis":null}}},
  {"data":{"values":[{}]},"mark":{"type":"text","text":"L","fontStyle":"italic","fontSize":15,"angle":270,"align":"left","baseline":"alphabetic","dx":14,"dy":4.5},
   "encoding":{"x":{"datum":6.36,"type":"quantitative","axis":null},"y":{"datum":31.0,"type":"quantitative","axis":null}}},
  {"data":{"values":[{}]},"mark":{"type":"text","text":",","fontSize":21,"angle":270,"align":"left","baseline":"alphabetic","dx":22},
   "encoding":{"x":{"datum":6.36,"type":"quantitative","axis":null},"y":{"datum":31.0,"type":"quantitative","axis":null}}},
  {"data":{"values":[{}]},"mark":{"type":"text","text":"ψ","fontStyle":"italic","fontSize":21,"angle":270,"align":"left","baseline":"alphabetic","dx":31.7},
   "encoding":{"x":{"datum":6.36,"type":"quantitative","axis":null},"y":{"datum":31.0,"type":"quantitative","axis":null}}},
  {"data":{"values":[{}]},"mark":{"type":"text","text":"R","fontStyle":"italic","fontSize":15,"angle":270,"align":"left","baseline":"alphabetic","dx":45.7,"dy":4.5},
   "encoding":{"x":{"datum":6.36,"type":"quantitative","axis":null},"y":{"datum":31.0,"type":"quantitative","axis":null}}},
  {"data":{"values":[{}]},"mark":{"type":"text","text":"[deg]","fontSize":21,"angle":270,"align":"left","baseline":"alphabetic","dx":58.3},
   "encoding":{"x":{"datum":6.36,"type":"quantitative","axis":null},"y":{"datum":31.0,"type":"quantitative","axis":null}}},
  {"data":{"values":[{}]},"mark":{"type":"text","text":"Penetration depth","fontSize":21.5,"align":"left","baseline":"alphabetic","dx":0},
   "encoding":{"x":{"datum":46.05,"type":"quantitative","axis":null},"y":{"datum":-0.16,"type":"quantitative","axis":null}}},
  {"data":{"values":[{}]},"mark":{"type":"text","text":"z","fontStyle":"italic","fontSize":21.5,"align":"left","baseline":"alphabetic","dx":158.3},
   "encoding":{"x":{"datum":46.05,"type":"quantitative","axis":null},"y":{"datum":-0.16,"type":"quantitative","axis":null}}},
  {"data":{"values":[{}]},"mark":{"type":"text","text":"P","fontStyle":"italic","fontSize":15,"align":"left","baseline":"alphabetic","dx":167,"dy":4.5},
   "encoding":{"x":{"datum":46.05,"type":"quantitative","axis":null},"y":{"datum":-0.16,"type":"quantitative","axis":null}}},
  {"data":{"values":[{}]},"mark":{"type":"text","text":"[mm]","fontSize":21.5,"align":"left","baseline":"alphabetic","dx":189},
   "encoding":{"x":{"datum":46.05,"type":"quantitative","axis":null},"y":{"datum":-0.16,"type":"quantitative","axis":null}}}
 ],
 "resolve":{"axis":{"x":"independent","y":"independent"}}
},
{"width":452,"height":97.7,"data":{"values":[{}]},"mark":{"type":"text","text":""},"view":{"stroke":null}},
{"width":452,"height":120,"data":{"name":"dpC"},
 "layer":[
  {"mark":{"type":"line","color":"black","strokeWidth":2,"clip":true},
   "encoding":{"x":{"field":"x","type":"quantitative","scale":{"domain":[20,150.3],"nice":false,"zero":false},"axis":{"orient":"bottom","values":[20,50,80,110,140],"labels":false,"title":null}},
     "y":{"field":"dp","type":"quantitative","scale":{"domain":[-4,4],"nice":false,"zero":false},"axis":{"orient":"left","values":[-4,0,4],"labelExpr":"''+datum.value","title":null}}}},
  {"mark":{"type":"point","opacity":0},
   "encoding":{"x":{"field":"x","type":"quantitative","axis":{"orient":"top","values":[20,50,80,110,140],"labels":false,"title":null}},
     "y":{"field":"dp","type":"quantitative","axis":{"orient":"right","values":[-4,0,4],"labels":false,"title":null}}}},
  {"data":{"name":"ptsC"},"mark":{"type":"point","shape":"circle","filled":true,"fill":"white","stroke":"black","strokeWidth":1.8,"size":64,"opacity":1},
   "encoding":{"x":{"field":"x","type":"quantitative","axis":null},"y":{"field":"dp","type":"quantitative","axis":null}}},
  {"data":{"name":"ptsC"},"mark":{"type":"text","fontSize":18,"align":"center","baseline":"alphabetic"},
   "encoding":{"x":{"field":"lx","type":"quantitative","axis":null},"y":{"field":"ly","type":"quantitative","axis":null},"text":{"field":"label"}}},
  {"data":{"values":[{}]},"mark":{"type":"text","text":"ΔP","fontStyle":"italic","fontSize":20.5,"angle":270,"align":"left","baseline":"alphabetic","dx":0},
   "encoding":{"x":{"datum":8.26,"type":"quantitative","axis":null},"y":{"datum":-3.9,"type":"quantitative","axis":null}}},
  {"data":{"values":[{}]},"mark":{"type":"text","text":"[kN/m²]","fontSize":20.5,"angle":270,"align":"left","baseline":"alphabetic","dx":31.7},
   "encoding":{"x":{"datum":8.26,"type":"quantitative","axis":null},"y":{"datum":-3.9,"type":"quantitative","axis":null}}},
  {"data":{"values":[{}]},"mark":{"type":"text","text":"(b)","fontWeight":"bold","fontSize":22,"align":"left","baseline":"alphabetic","dx":0},
   "encoding":{"x":{"datum":3.36,"type":"quantitative","axis":null},"y":{"datum":5.9,"type":"quantitative","axis":null}}},
  {"data":{"values":[{}]},"mark":{"type":"text","text":"Case C (","fontSize":22,"align":"left","baseline":"alphabetic","dx":30},
   "encoding":{"x":{"datum":3.36,"type":"quantitative","axis":null},"y":{"datum":5.9,"type":"quantitative","axis":null}}},
  {"data":{"values":[{}]},"mark":{"type":"text","text":"B","fontStyle":"italic","fontSize":22,"align":"left","baseline":"alphabetic","dx":104},
   "encoding":{"x":{"datum":3.36,"type":"quantitative","axis":null},"y":{"datum":5.9,"type":"quantitative","axis":null}}},
  {"data":{"values":[{}]},"mark":{"type":"text","text":"/","fontSize":22,"align":"left","baseline":"alphabetic","dx":116.5},
   "encoding":{"x":{"datum":3.36,"type":"quantitative","axis":null},"y":{"datum":5.9,"type":"quantitative","axis":null}}},
  {"data":{"values":[{}]},"mark":{"type":"text","text":"d","fontStyle":"italic","fontSize":22,"align":"left","baseline":"alphabetic","dx":125},
   "encoding":{"x":{"datum":3.36,"type":"quantitative","axis":null},"y":{"datum":5.9,"type":"quantitative","axis":null}}},
  {"data":{"values":[{}]},"mark":{"type":"text","text":"50","fontSize":15,"align":"left","baseline":"alphabetic","dx":137,"dy":4},
   "encoding":{"x":{"datum":3.36,"type":"quantitative","axis":null},"y":{"datum":5.9,"type":"quantitative","axis":null}}},
  {"data":{"values":[{}]},"mark":{"type":"text","text":"= 21)","fontSize":22,"align":"left","baseline":"alphabetic","dx":157},
   "encoding":{"x":{"datum":3.36,"type":"quantitative","axis":null},"y":{"datum":5.9,"type":"quantitative","axis":null}}}
 ],
 "resolve":{"axis":{"x":"independent","y":"independent"}}
},
{"width":452,"height":230,"data":{"name":"psiC"},
 "layer":[
  {"mark":{"type":"line","strokeWidth":2,"clip":true},
   "encoding":{"x":{"field":"x","type":"quantitative","scale":{"domain":[20,150.3],"nice":false,"zero":false},"axis":{"orient":"bottom","values":[20,50,80,110,140],"title":null}},
     "y":{"field":"psi","type":"quantitative","scale":{"domain":[15,75],"nice":false,"zero":false},"axis":{"orient":"left","values":[15,30,45,60,75],"title":null}},
     "color":{"field":"side","type":"nominal","scale":{"domain":["L","R"],"range":["#ff0000","#4472c4"]},"legend":null}}},
  {"mark":{"type":"point","opacity":0},
   "encoding":{"x":{"field":"x","type":"quantitative","axis":{"orient":"top","values":[20,50,80,110,140],"labels":false,"title":null}},
     "y":{"field":"psi","type":"quantitative","axis":{"orient":"right","values":[15,30,45,60,75],"labels":false,"title":null}}}},
  {"data":{"values":[{}]},"mark":{"type":"rect","fill":"white","stroke":"black","strokeWidth":2},
   "encoding":{"x":{"datum":101.2,"type":"quantitative","axis":null},"x2":{"datum":145.2},"y":{"datum":31.25,"type":"quantitative","axis":null},"y2":{"datum":19.96}}},
  {"data":{"values":[{}]},"mark":{"type":"rule","color":"#ff0000","strokeWidth":2},
   "encoding":{"x":{"datum":103.4,"type":"quantitative","axis":null},"x2":{"datum":110.6},"y":{"datum":25.87,"type":"quantitative","axis":null}}},
  {"data":{"values":[{}]},"mark":{"type":"rule","color":"#4472c4","strokeWidth":2},
   "encoding":{"x":{"datum":126.4,"type":"quantitative","axis":null},"x2":{"datum":133.6},"y":{"datum":25.87,"type":"quantitative","axis":null}}},
  {"data":{"values":[{}]},"mark":{"type":"text","text":"ψ","fontStyle":"italic","fontSize":22,"align":"left","baseline":"alphabetic"},
   "encoding":{"x":{"datum":113.9,"type":"quantitative","axis":null},"y":{"datum":23.42,"type":"quantitative","axis":null}}},
  {"data":{"values":[{}]},"mark":{"type":"text","text":"L","fontStyle":"italic","fontSize":15,"align":"left","baseline":"alphabetic","dx":12.5,"dy":4.5},
   "encoding":{"x":{"datum":113.9,"type":"quantitative","axis":null},"y":{"datum":23.42,"type":"quantitative","axis":null}}},
  {"data":{"values":[{}]},"mark":{"type":"text","text":"ψ","fontStyle":"italic","fontSize":22,"align":"left","baseline":"alphabetic"},
   "encoding":{"x":{"datum":136.5,"type":"quantitative","axis":null},"y":{"datum":23.42,"type":"quantitative","axis":null}}},
  {"data":{"values":[{}]},"mark":{"type":"text","text":"R","fontStyle":"italic","fontSize":15,"align":"left","baseline":"alphabetic","dx":12.5,"dy":4.5},
   "encoding":{"x":{"datum":136.5,"type":"quantitative","axis":null},"y":{"datum":23.42,"type":"quantitative","axis":null}}},
  {"data":{"values":[{}]},"mark":{"type":"text","text":"ψ","fontStyle":"italic","fontSize":21,"angle":270,"align":"left","baseline":"alphabetic","dx":0},
   "encoding":{"x":{"datum":6.36,"type":"quantitative","axis":null},"y":{"datum":29.7,"type":"quantitative","axis":null}}},
  {"data":{"values":[{}]},"mark":{"type":"text","text":"L","fontStyle":"italic","fontSize":15,"angle":270,"align":"left","baseline":"alphabetic","dx":14,"dy":4.5},
   "encoding":{"x":{"datum":6.36,"type":"quantitative","axis":null},"y":{"datum":29.7,"type":"quantitative","axis":null}}},
  {"data":{"values":[{}]},"mark":{"type":"text","text":",","fontSize":21,"angle":270,"align":"left","baseline":"alphabetic","dx":22},
   "encoding":{"x":{"datum":6.36,"type":"quantitative","axis":null},"y":{"datum":29.7,"type":"quantitative","axis":null}}},
  {"data":{"values":[{}]},"mark":{"type":"text","text":"ψ","fontStyle":"italic","fontSize":21,"angle":270,"align":"left","baseline":"alphabetic","dx":31.7},
   "encoding":{"x":{"datum":6.36,"type":"quantitative","axis":null},"y":{"datum":29.7,"type":"quantitative","axis":null}}},
  {"data":{"values":[{}]},"mark":{"type":"text","text":"R","fontStyle":"italic","fontSize":15,"angle":270,"align":"left","baseline":"alphabetic","dx":45.7,"dy":4.5},
   "encoding":{"x":{"datum":6.36,"type":"quantitative","axis":null},"y":{"datum":29.7,"type":"quantitative","axis":null}}},
  {"data":{"values":[{}]},"mark":{"type":"text","text":"[deg]","fontSize":21,"angle":270,"align":"left","baseline":"alphabetic","dx":58.3},
   "encoding":{"x":{"datum":6.36,"type":"quantitative","axis":null},"y":{"datum":29.7,"type":"quantitative","axis":null}}},
  {"data":{"values":[{}]},"mark":{"type":"text","text":"Penetration depth","fontSize":21.5,"align":"left","baseline":"alphabetic","dx":0},
   "encoding":{"x":{"datum":48.07,"type":"quantitative","axis":null},"y":{"datum":0.12,"type":"quantitative","axis":null}}},
  {"data":{"values":[{}]},"mark":{"type":"text","text":"z","fontStyle":"italic","fontSize":21.5,"align":"left","baseline":"alphabetic","dx":158.3},
   "encoding":{"x":{"datum":48.07,"type":"quantitative","axis":null},"y":{"datum":0.12,"type":"quantitative","axis":null}}},
  {"data":{"values":[{}]},"mark":{"type":"text","text":"P","fontStyle":"italic","fontSize":15,"align":"left","baseline":"alphabetic","dx":167,"dy":4.5},
   "encoding":{"x":{"datum":48.07,"type":"quantitative","axis":null},"y":{"datum":0.12,"type":"quantitative","axis":null}}},
  {"data":{"values":[{}]},"mark":{"type":"text","text":"[mm]","fontSize":21.5,"align":"left","baseline":"alphabetic","dx":189},
   "encoding":{"x":{"datum":48.07,"type":"quantitative","axis":null},"y":{"datum":0.12,"type":"quantitative","axis":null}}}
 ],
 "resolve":{"axis":{"x":"independent","y":"independent"}}
}
]
}
